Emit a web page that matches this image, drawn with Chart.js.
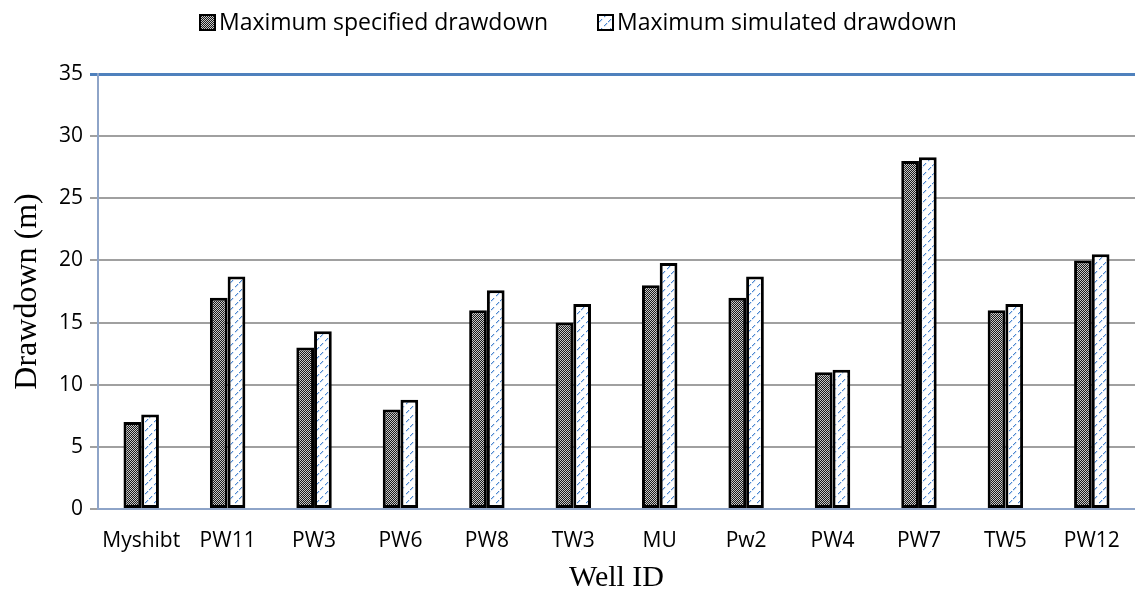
<!DOCTYPE html>
<html><head><meta charset="utf-8">
<script src="https://cdn.jsdelivr.net/npm/chart.js@4/dist/chart.umd.min.js"></script>
<style>html,body{margin:0;padding:0;background:#fff}#wrap{width:1135px;height:593px}</style>
</head><body><div id="wrap"><canvas id="c" width="1135" height="593"></canvas></div>
<script>
const categories = ["Myshibt","PW11","PW3","PW6","PW8","TW3","MU","Pw2","PW4","PW7","TW5","PW12"];
const specified = [7,17,13,8,16,15,18,17,11,28,16,20];
const simulated = [7.6,18.7,14.3,8.8,17.6,16.5,19.8,18.7,11.2,28.3,16.5,20.5];
const yTicks = [0,5,10,15,20,25,30,35];
const seriesNames = ["Maximum specified drawdown","Maximum simulated drawdown"];

const ctx0 = document.getElementById('c').getContext('2d');
function checkerPattern(){
  const c=document.createElement('canvas');c.width=4;c.height=4;const g=c.getContext('2d');
  g.fillStyle='#1a1a1a';g.fillRect(0,0,4,4);
  g.fillStyle='#c8c8c8';
  g.fillRect(0,0,1,1);g.fillRect(2,0,1,1);g.fillRect(1,1,1,1);g.fillRect(3,1,1,1);
  g.fillRect(0,2,1,1);g.fillRect(2,2,1,1);g.fillRect(1,3,1,1);g.fillRect(3,3,1,1);
  return ctx0.createPattern(c,'repeat');
}
function dashPattern(){
  const c=document.createElement('canvas');c.width=9;c.height=9;const g=c.getContext('2d');
  g.fillStyle='#ffffff';g.fillRect(0,0,9,9);
  g.fillStyle='#4a86d0';
  [[1,7],[2,6],[3,5],[5,3],[6,2],[7,1]].forEach(p=>g.fillRect(p[0],p[1],1.2,1.2));
  return ctx0.createPattern(c,'repeat');
}
const fills=[checkerPattern(),dashPattern()];

const legendPlugin={
  id:'customLegend',
  afterDraw(chart){
    const g=chart.ctx;const xs=[200,598];const y=22;
    g.save();
    chart.data.datasets.forEach((ds,i)=>{
      g.fillStyle=ds.backgroundColor;g.fillRect(xs[i],y-7,15,15);
      g.lineWidth=2;g.strokeStyle='#000';g.strokeRect(xs[i],y-7,15,15);
      g.fillStyle='#000';g.font='23px "Open Sans"';g.textBaseline='middle';g.textAlign='left';
      g.fillText(ds.label,xs[i]+19,y+1);
    });
    g.restore();
  }
};

new Chart(document.getElementById('c'),{
  type:'bar',
  data:{labels:categories,datasets:[
    {label:seriesNames[0],data:specified,backgroundColor:fills[0],borderColor:'#000',borderWidth:3,borderSkipped:false,barPercentage:1,categoryPercentage:0.41},
    {label:seriesNames[1],data:simulated,backgroundColor:fills[1],borderColor:'#000',borderWidth:3,borderSkipped:false,barPercentage:1,categoryPercentage:0.41}
  ]},
  plugins:[legendPlugin],
  options:{
    responsive:false,animation:false,
    layout:{padding:{left:0,right:0,top:74,bottom:0}},
    plugins:{legend:{display:false},tooltip:{enabled:false}},
    scales:{
      x:{
        grid:{display:false},
        border:{display:true,color:'#8ea4c8',width:2},
        ticks:{font:{family:'Open Sans',size:21},color:'#000',padding:11,maxRotation:0,autoSkip:false},
        title:{display:true,text:'Well ID',font:{family:'Liberation Serif',size:30,lineHeight:1},color:'#000',padding:{top:4,bottom:0}},
        afterFit(s){s.height=84;}
      },
      y:{
        min:0,max:35,
        afterBuildTicks(s){s.ticks=yTicks.map(v=>({value:v}));},
        grid:{color:c=>c.tick&&c.tick.value===35?'#4f81bd':'#a0a0a0',lineWidth:c=>c.tick&&c.tick.value===35?3:2,tickLength:8,drawTicks:true},
        border:{display:true,color:'#8ea4c8',width:2},
        ticks:{font:{family:'Open Sans',size:21},color:'#000',padding:7},
        title:{display:true,text:'Drawdown (m)',font:{family:'Liberation Serif',size:32,lineHeight:1},color:'#000',padding:{top:12,bottom:0}},
        afterFit(s){s.width=98;}
      }
    }
  }
});
</script></body></html>
